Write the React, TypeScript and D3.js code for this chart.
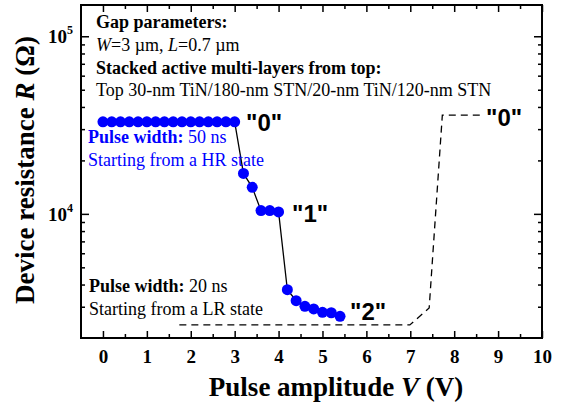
import { useEffect, useRef } from "react";
import * as d3 from "d3";

// Pulse sweep, 50 ns pulses, starting from the high-resistance state
const sweepV = [
  0, 0.2, 0.4, 0.6, 0.8, 1.0, 1.2, 1.4, 1.6, 1.8, 2.0, 2.2, 2.4, 2.6, 2.8, 3.0,
  3.2, 3.4, 3.6, 3.8, 4.0, 4.2, 4.4, 4.6, 4.8, 5.0, 5.2, 5.4,
];
const sweepR = [
  33000, 33000, 33000, 33000, 33000, 33000, 33000, 33000, 33000, 33000, 33000,
  33000, 33000, 33000, 33000, 33000, 16900, 14100, 10430, 10430, 10260, 3740,
  3245, 3015, 2915, 2790, 2775, 2650,
];

// 20 ns pulses, starting from the low-resistance state (dashed)
const resetV = [1.74, 6.99, 7.43, 7.73, 8.59];
const resetR = [2370, 2370, 2950, 36000, 36000];

const xTicks = [0, 1, 2, 3, 4, 5, 6, 7, 8, 9, 10];
const xMinor = [0.5, 1.5, 2.5, 3.5, 4.5, 5.5, 6.5, 7.5, 8.5, 9.5];
const yMajor = [1e4, 1e5];
const yMinor = [
  3000, 4000, 5000, 6000, 7000, 8000, 9000, 20000, 30000, 40000, 50000, 60000,
  70000, 80000, 90000,
];

const SERIF = "'Liberation Serif', 'Times New Roman', serif";
const SANS = "'Liberation Sans', Arial, sans-serif";
const BLUE = "#0000ff";

export default function App() {
  const svgRef = useRef<SVGSVGElement>(null);

  useEffect(() => {
    if (!svgRef.current) return;
    const W = 563;
    const H = 407;
    const left = 81;
    const right = 542;
    const top = 5;
    const bottom = 338;

    const svg = d3.select(svgRef.current);
    svg.selectAll("*").remove();
    svg.attr("width", W).attr("height", H).attr("viewBox", `0 0 ${W} ${H}`);

    const x = d3.scaleLinear().domain([-0.5, 10]).range([left, right]);
    const y = d3.scaleLog().domain([2000, 1.5e5]).range([bottom, top]);

    // inward ticks on all four sides
    const tickStyle = (g: any) => {
      g.select(".domain").remove();
      g.selectAll(".tick line").attr("stroke", "#000").attr("stroke-width", 1.5);
    };
    const noLabel = () => "";

    function addAxis(axis: any, transform: string, labels = false) {
      const g = svg.append("g").attr("transform", transform).call(axis).call(tickStyle);
      if (labels) {
        g.selectAll(".tick text")
          .attr("font-family", SERIF)
          .attr("font-weight", "bold")
          .attr("font-size", 19)
          .attr("fill", "#000");
      }
    }

    addAxis(d3.axisBottom(x).tickValues(xTicks).tickSizeInner(-7).tickSizeOuter(0).tickPadding(12).tickFormat((d) => String(d)), `translate(0,${bottom})`, true);
    addAxis(d3.axisBottom(x).tickValues(xMinor).tickSizeInner(-4).tickSizeOuter(0).tickFormat(noLabel), `translate(0,${bottom})`);
    addAxis(d3.axisTop(x).tickValues(xTicks).tickSizeInner(-7).tickSizeOuter(0).tickFormat(noLabel), `translate(0,${top})`);
    addAxis(d3.axisTop(x).tickValues(xMinor).tickSizeInner(-4).tickSizeOuter(0).tickFormat(noLabel), `translate(0,${top})`);
    addAxis(d3.axisLeft(y).tickValues(yMajor).tickSizeInner(-8).tickSizeOuter(0).tickFormat(noLabel), `translate(${left},0)`);
    addAxis(d3.axisLeft(y).tickValues(yMinor).tickSizeInner(-4).tickSizeOuter(0).tickFormat(noLabel), `translate(${left},0)`);
    addAxis(d3.axisRight(y).tickValues(yMajor).tickSizeInner(-8).tickSizeOuter(0).tickFormat(noLabel), `translate(${right},0)`);
    addAxis(d3.axisRight(y).tickValues(yMinor).tickSizeInner(-4).tickSizeOuter(0).tickFormat(noLabel), `translate(${right},0)`);

    // frame
    svg
      .append("rect")
      .attr("x", left)
      .attr("y", top)
      .attr("width", right - left)
      .attr("height", bottom - top)
      .attr("fill", "none")
      .attr("stroke", "#000")
      .attr("stroke-width", 2);

    // y tick labels 10^n
    yMajor.forEach((v) => {
      const t = svg
        .append("text")
        .attr("x", 73)
        .attr("y", y(v) + 7)
        .attr("text-anchor", "end")
        .attr("font-family", SERIF)
        .attr("font-weight", "bold")
        .attr("font-size", 19);
      t.append("tspan").text("10");
      t.append("tspan")
        .attr("font-size", 12)
        .attr("dy", -9)
        .text(String(Math.round(Math.log10(v))));
    });

    // dashed reset curve
    const resetPts = resetV.map((v, i) => [x(v), y(resetR[i])] as [number, number]);
    svg
      .append("path")
      .attr("d", d3.line()(resetPts))
      .attr("fill", "none")
      .attr("stroke", "#000")
      .attr("stroke-width", 1.3)
      .attr("stroke-dasharray", "7,5");

    // sweep line + dots
    const sweepPts = sweepV.map((v, i) => [x(v), y(sweepR[i])] as [number, number]);
    svg
      .append("path")
      .attr("d", d3.line()(sweepPts))
      .attr("fill", "none")
      .attr("stroke", "#000")
      .attr("stroke-width", 1.3);

    svg
      .append("g")
      .selectAll("circle")
      .data(sweepPts)
      .join("circle")
      .attr("cx", (d) => d[0])
      .attr("cy", (d) => d[1])
      .attr("r", 5.5)
      .attr("fill", BLUE);

    // annotation text block
    const addText = (xx: number, yy: number, parts: [string, string][], fill = "#000", size = 18) => {
      const t = svg
        .append("text")
        .attr("x", xx)
        .attr("y", yy)
        .attr("font-family", SERIF)
        .attr("font-size", size)
        .attr("fill", fill);
      parts.forEach(([txt, st]) => {
        const s = t.append("tspan").text(txt);
        if (st.includes("b")) s.attr("font-weight", "bold");
        if (st.includes("i")) s.attr("font-style", "italic");
      });
    };

    addText(96, 28, [["Gap parameters:", "b"]]);
    addText(96, 51, [["W", "i"], ["=3 \u00b5m, ", ""], ["L", "i"], ["=0.7 \u00b5m", ""]]);
    addText(96, 74, [["Stacked active multi-layers from top:", "b"]]);
    addText(96, 96, [["Top 30-nm TiN/180-nm STN/20-nm TiN/120-nm STN", ""]]);
    addText(88, 143, [["Pulse width: ", "b"], ["50 ns", ""]], BLUE);
    addText(88, 166, [["Starting from a HR state", ""]], BLUE);
    addText(89, 292, [["Pulse width: ", "b"], ["20 ns", ""]]);
    addText(89, 315, [["Starting from a LR state", ""]]);

    // state labels
    const stateLabel = (xx: number, yy: number, s: string) =>
      svg
        .append("text")
        .attr("x", xx)
        .attr("y", yy)
        .attr("font-family", SANS)
        .attr("font-weight", "bold")
        .attr("font-size", 24)
        .text(`"${s}"`);
    stateLabel(246, 131, "0");
    stateLabel(292, 222, "1");
    stateLabel(350, 320, "2");
    stateLabel(486, 126, "0");

    // axis titles
    const xt = svg
      .append("text")
      .attr("x", 336)
      .attr("y", 396)
      .attr("text-anchor", "middle")
      .attr("font-family", SERIF)
      .attr("font-weight", "bold")
      .attr("font-size", 27);
    xt.append("tspan").text("Pulse amplitude ");
    xt.append("tspan").attr("font-style", "italic").text("V");
    xt.append("tspan").text(" (V)");

    const yt = svg
      .append("text")
      .attr("transform", `translate(34,170) rotate(-90)`)
      .attr("text-anchor", "middle")
      .attr("font-family", SERIF)
      .attr("font-weight", "bold")
      .attr("font-size", 27);
    yt.append("tspan").text("Device resistance ");
    yt.append("tspan").attr("font-style", "italic").text("R");
    yt.append("tspan").text(" (\u03a9)");
  }, []);

  return (
    <div style={{ position: "absolute", left: 0, top: 0, background: "#fff" }}>
      <svg ref={svgRef} style={{ display: "block" }} />
    </div>
  );
}
